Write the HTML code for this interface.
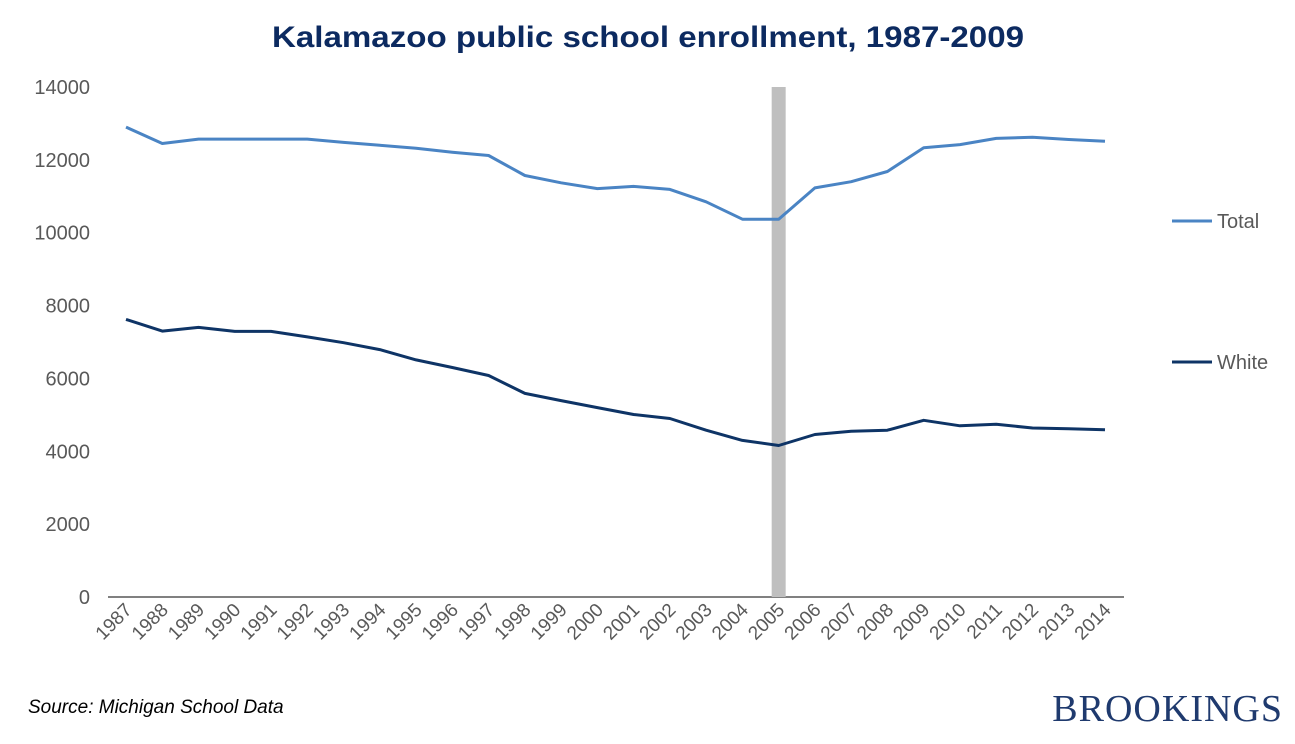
<!DOCTYPE html>
<html><head><meta charset="utf-8"><style>
body{margin:0;background:#fff;width:1295px;height:739px;overflow:hidden;font-family:"Liberation Sans",sans-serif}
</style></head><body>
<svg id="chart" width="1295" height="739" xmlns="http://www.w3.org/2000/svg">
<text x="272" y="47" textLength="752" lengthAdjust="spacingAndGlyphs" font-size="30" font-weight="bold" fill="#0c2a60">Kalamazoo public school enrollment, 1987-2009</text>
<g id="yaxis"></g>
<g id="xaxis"></g>
<g id="series"></g>
<g>
<line x1="1172" y1="221" x2="1212" y2="221" stroke="#4a84c4" stroke-width="3"/>
<text x="1217" y="228" font-size="20" fill="#595959">Total</text>
<line x1="1172" y1="362" x2="1212" y2="362" stroke="#0e3466" stroke-width="3"/>
<text x="1217" y="369" font-size="20" fill="#595959">White</text>
</g>
<text x="28" y="713" font-size="19" font-style="italic" fill="#000">Source: Michigan School Data</text>
<text x="1283" y="721" text-anchor="end" font-size="38" font-family="Liberation Serif,serif" fill="#1f3a6e" letter-spacing="1">BROOKINGS</text>
</svg>
<script>
const years=[1987,1988,1989,1990,1991,1992,1993,1994,1995,1996,1997,1998,1999,2000,2001,2002,2003,2004,2005,2006,2007,2008,2009,2010,2011,2012,2013,2014];
const totalValues=[12900,12450,12570,12570,12570,12570,12480,12400,12320,12210,12120,11570,11370,11210,11270,11190,10850,10370,10370,11230,11400,11680,12330,12420,12590,12620,12560,12510];
const whiteValues=[7620,7300,7400,7290,7290,7140,6980,6790,6510,6300,6080,5590,5390,5200,5010,4900,4580,4300,4160,4460,4550,4580,4850,4700,4740,4640,4620,4590];
const yTicks=[0,2000,4000,6000,8000,10000,12000,14000];
const highlightYear=2005;
const NS="http://www.w3.org/2000/svg";
const x0=126,x1=1105,yb=597,yt=87,yMax=14000;
const xs=i=>x0+(x1-x0)*i/(years.length-1);
const ys=v=>yb-(yb-yt)*v/yMax;
function mk(t,a,p){const e=document.createElementNS(NS,t);for(const k in a)e.setAttribute(k,a[k]);p.appendChild(e);return e;}
const ya=document.getElementById('yaxis'),xa=document.getElementById('xaxis'),sg=document.getElementById('series');
yTicks.forEach(v=>{const t=mk('text',{x:90,y:ys(v)+7,'text-anchor':'end','font-size':20,fill:'#595959'},ya);t.textContent=v;

});
const hi=years.indexOf(highlightYear);
const bar=mk('rect',{x:xs(hi)-7,y:ys(yMax),width:14,height:ys(0)-ys(yMax),fill:'#bfbfbf'},sg);


const ax=mk('line',{x1:108,y1:yb,x2:1124,y2:yb,stroke:'#000','stroke-width':1},xa);


years.forEach((y,i)=>{const x=xs(i);const t=mk('text',{x:x+7,y:yb+14,'text-anchor':'end','font-size':19,fill:'#595959',transform:`rotate(-45 ${x+7} ${yb+14})`},xa);t.textContent=y;

});
function line(vals,col,name){const d=vals.map((v,i)=>(i?'L':'M')+xs(i).toFixed(1)+' '+ys(v).toFixed(1)).join(' ');
const p=mk('path',{d:d,fill:'none',stroke:col,'stroke-width':3,'stroke-linejoin':'round'},sg);

}
line(totalValues,'#4a84c4','total-line');
line(whiteValues,'#0e3466','white-line');
</script>
</body></html>
